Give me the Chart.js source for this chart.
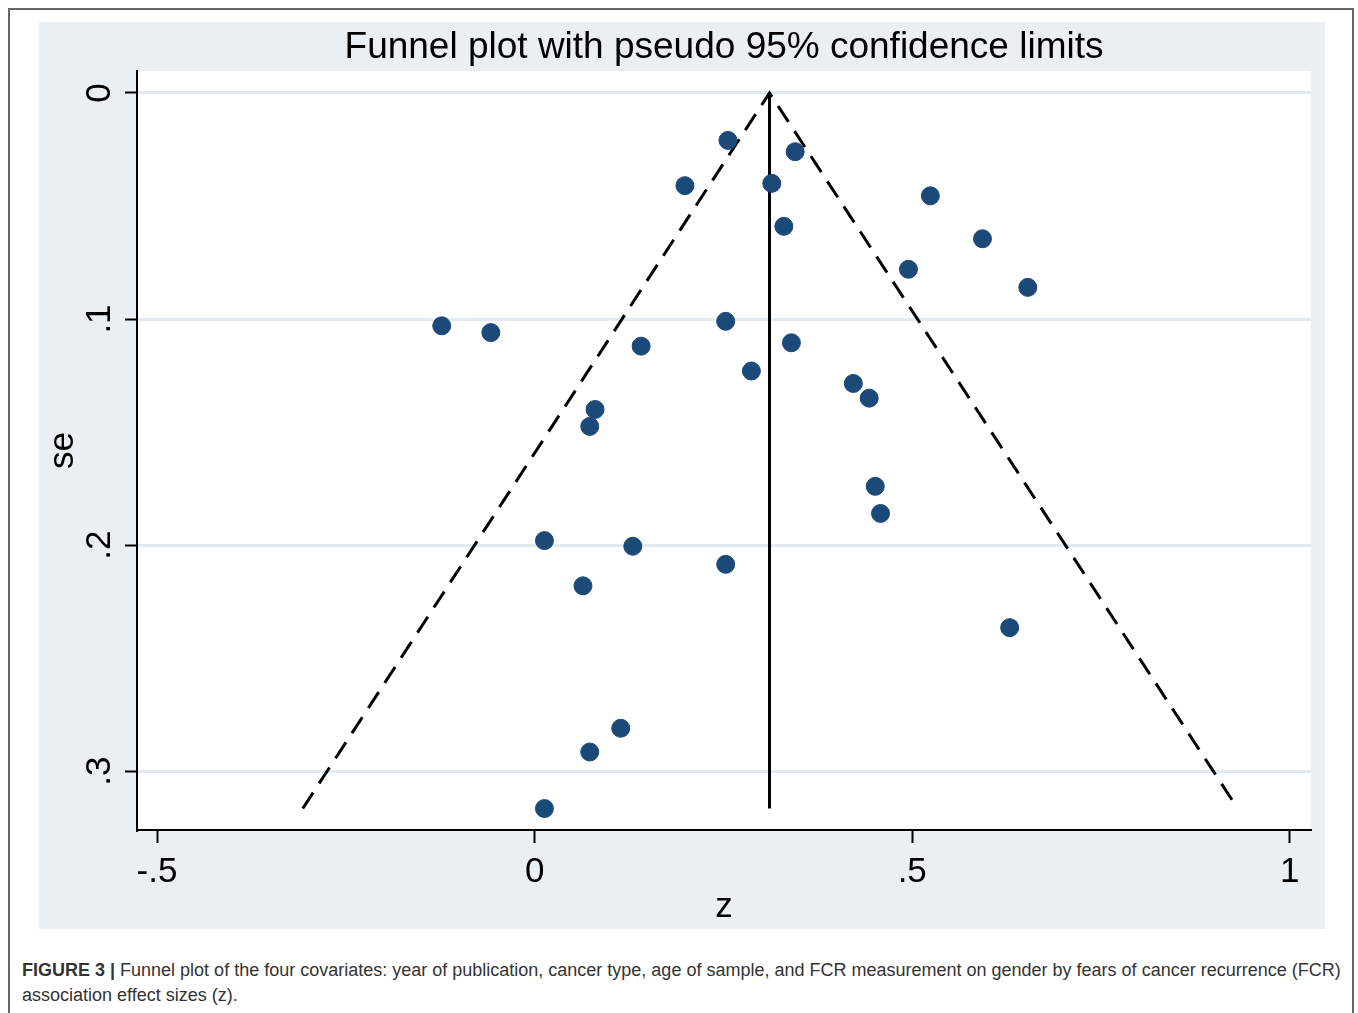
<!DOCTYPE html>
<html lang="en">
<head>
  <meta charset="UTF-8">
  <title>Funnel plot</title>
  <script src="https://cdn.jsdelivr.net/npm/chart.js"></script>
  <style>
    body { margin: 0; background: #fff; width: 1358px; height: 1013px; overflow: hidden; position: relative; }
    #frame { position: absolute; left: 8px; top: 8px; width: 1342px; height: 1100px; border: 2px solid #666; }
    #panel { position: absolute; left: 39px; top: 22px; width: 1286px; height: 907px; background: #e9eff2; }
    #caption { position: absolute; left: 22px; top: 958px; font-family: "Liberation Sans", Arial, sans-serif;
               font-size: 18px; line-height: 25px; color: #333; white-space: nowrap; }
  </style>
</head>
<body>
  <div id="frame"></div>
  <div id="panel"><canvas id="myChart"></canvas></div>
  <div id="caption"><b>FIGURE 3 |</b> Funnel plot of the four covariates: year of publication, cancer type, age of sample, and FCR measurement on gender by fears of cancer recurrence (FCR)<br>association effect sizes (z).</div>

  <script>
    // study effect sizes (z) and their standard errors (se)
    const studyZ  = [0.256, 0.345, 0.199, 0.314, 0.524, 0.330, 0.593, 0.495, 0.653,
                     -0.123, -0.058, 0.253, 0.340, 0.141, 0.287, 0.422, 0.443, 0.080,
                     0.073, 0.451, 0.458, 0.013, 0.130, 0.253, 0.064, 0.629, 0.114,
                     0.073, 0.013];
    const studySe = [0.021, 0.026, 0.041, 0.040, 0.0455, 0.059, 0.0645, 0.078, 0.086,
                     0.103, 0.106, 0.101, 0.1105, 0.112, 0.123, 0.1285, 0.135, 0.140,
                     0.1475, 0.174, 0.186, 0.198, 0.2005, 0.2085, 0.218, 0.2365, 0.281,
                     0.2915, 0.3165];

    // pooled estimate line and pseudo 95% limits
    const pooledZ  = [0.311, 0.311];
    const pooledSe = [0, 0.3165];
    const funnelZ  = [-0.307, 0.311, 0.931];
    const funnelSe = [0.3165, 0, 0.3165];

    const xTicks = [-0.5, 0, 0.5, 1];
    const xTickLabels = ['-.5', '0', '.5', '1'];
    const yTicks = [0, 0.1, 0.2, 0.3];
    const yTickLabels = ['0', '.1', '.2', '.3'];

    const toPoints = (xs, ys) => xs.map((x, i) => ({ x: x, y: ys[i] }));

    // white plot region inside the grey panel
    const plotBackground = {
      id: 'plotBackground',
      beforeDraw(chart) {
        const a = chart.chartArea;
        chart.ctx.save();
        chart.ctx.fillStyle = '#ffffff';
        chart.ctx.fillRect(a.left, a.top, a.right - a.left, a.bottom - a.top);
        chart.ctx.restore();
      }
    };

    const font = { family: '"Liberation Sans", Arial, sans-serif', size: 35 };

    const ctx = document.getElementById('myChart').getContext('2d');
    const myChart = new Chart(ctx, {
      type: 'scatter',
      data: {
        datasets: [
          {
            label: 'studies',
            data: toPoints(studyZ, studySe),
            backgroundColor: '#1b4a79',
            borderColor: '#1b4a79',
            pointRadius: 9,
            pointHoverRadius: 9
          },
          {
            label: 'pooled',
            data: toPoints(pooledZ, pooledSe),
            showLine: true,
            borderColor: '#000',
            borderWidth: 3,
            pointRadius: 0
          },
          {
            label: 'limits',
            data: toPoints(funnelZ, funnelSe),
            showLine: true,
            borderColor: '#000',
            borderWidth: 3,
            borderDash: [19, 11],
            pointRadius: 0
          }
        ]
      },
      options: {
        responsive: true,
        maintainAspectRatio: false,
        animation: false,
        layout: { padding: { left: 0, right: 14, top: 0, bottom: 0 } },
        plugins: {
          legend: { display: false },
          tooltip: { enabled: false },
          title: {
            display: true,
            text: 'Funnel plot with pseudo 95% confidence limits',
            color: '#000',
            font: { family: font.family, size: 37, weight: 'normal' },
            fullSize: false,
            padding: { top: 3.5, bottom: 1.1 }
          }
        },
        scales: {
          x: {
            type: 'linear',
            min: -0.5265,
            max: 1.028,
            afterBuildTicks: s => { s.ticks = xTicks.map(v => ({ value: v })); },
            afterFit: s => { s.height = 99; },
            ticks: {
              color: '#000',
              font: font,
              padding: 8,
              maxRotation: 0,
              callback: (v) => xTickLabels[xTicks.indexOf(v)]
            },
            grid: { drawOnChartArea: false, tickColor: '#000', tickWidth: 2, tickLength: 13 },
            border: { color: '#000', width: 2 },
            title: { display: true, text: 'z', color: '#000', font: font, padding: { top: 0, bottom: 1 } }
          },
          y: {
            type: 'linear',
            reverse: true,
            min: -0.0097,
            max: 0.326,
            afterBuildTicks: s => { s.ticks = yTicks.map(v => ({ value: v })); },
            afterFit: s => { s.width = 98; },
            ticks: {
              color: '#000',
              font: font,
              padding: 10,
              minRotation: 90,
              maxRotation: 90,
              crossAlign: 'center',
              callback: (v) => yTickLabels[yTicks.indexOf(v)]
            },
            grid: { color: '#e3ebf0', lineWidth: 3, tickColor: '#000', tickWidth: 2, tickLength: 12 },
            border: { color: '#000', width: 2 },
            title: { display: true, text: 'se', color: '#000', font: font, padding: { top: 3, bottom: 0 } }
          }
        }
      },
      plugins: [plotBackground]
    });
  </script>
</body>
</html>
